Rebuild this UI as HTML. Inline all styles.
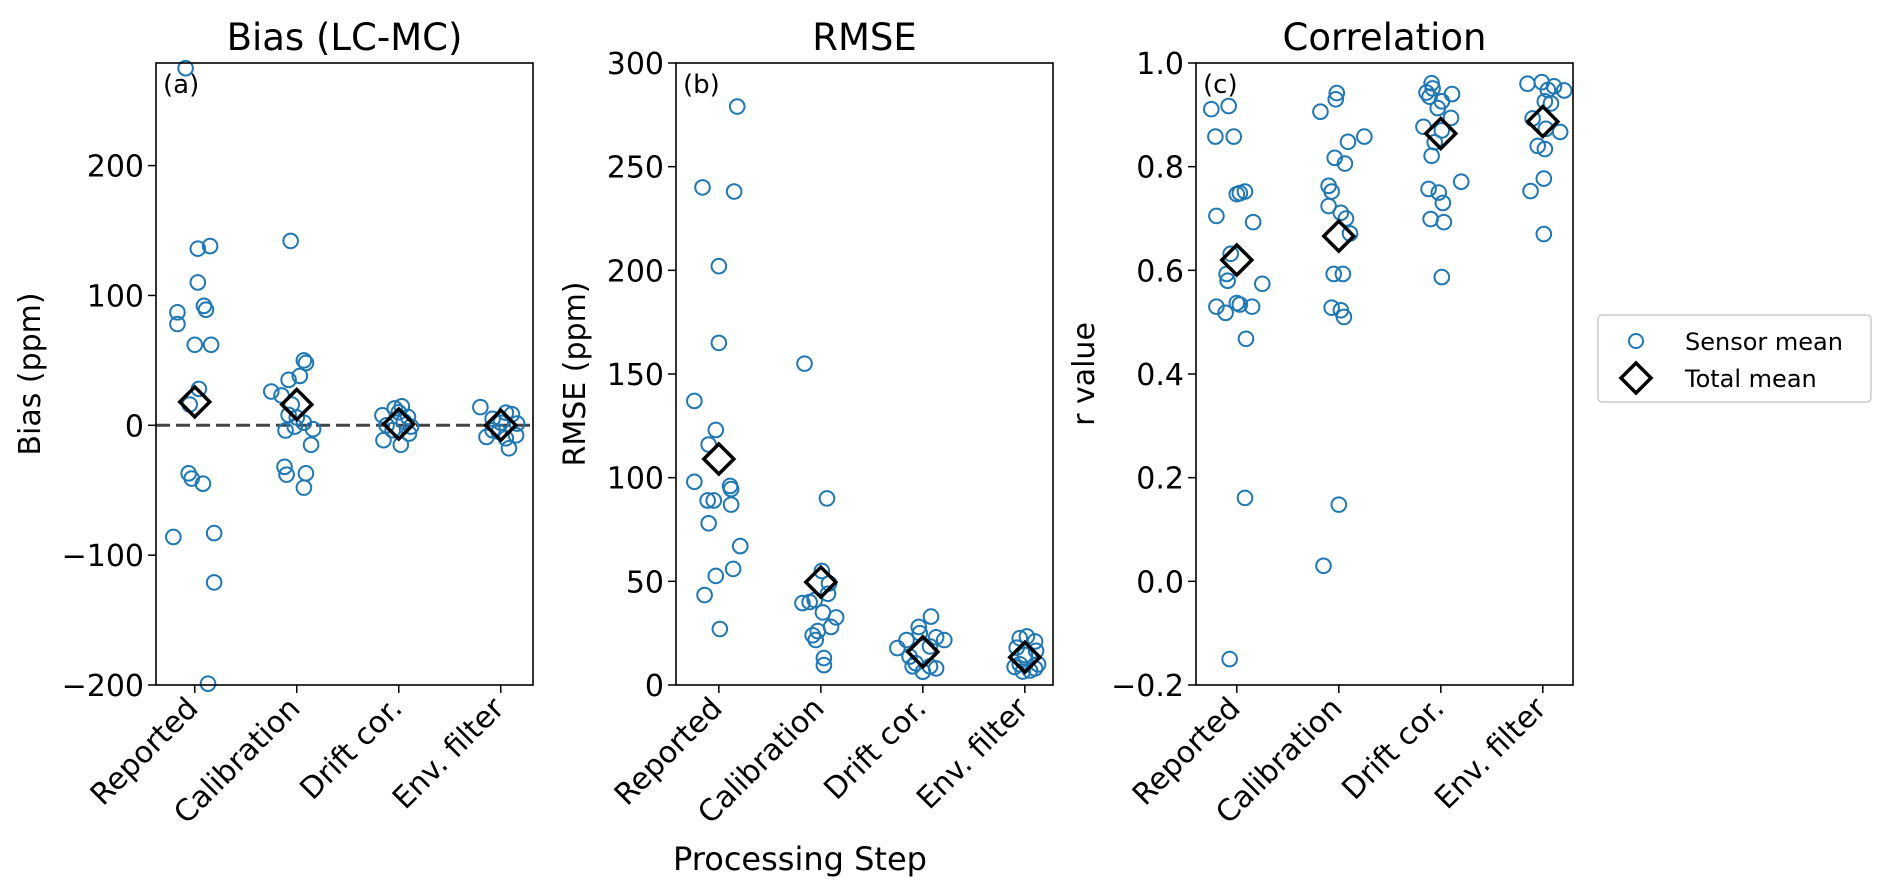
<!DOCTYPE html>
<html><head><meta charset="utf-8"><style>
html,body{margin:0;padding:0;background:#fff;}
svg{display:block;font-family:"DejaVu Sans","Liberation Sans",sans-serif;}
</style></head><body>
<svg id="chart" width="1892" height="896" viewBox="0 0 1892 896" xmlns="http://www.w3.org/2000/svg"></svg>
<script>
const categories = ["Reported","Calibration","Drift cor.","Env. filter"];
const biasVals = [
 [275,136,138,110,92,89,87,78,62,62,28,16,-37,-41,-45,-86,-83,-121,-199],
 [142,26,35,38,50,48,23,16,8,6,2,-4,-1,-3,-15,-32,-38,-37,-48],
 [7.7,13,14.6,-11.5,-15,-6.4,6.4,0,-3.8,-1,10,3],
 [14,-17.7,-9,8.5,1.3,9.7,-3.8,-10,-7.7,5,2,-5]
];
const biasJit = [
 [-0.09,0.03,0.15,0.03,0.09,0.11,-0.17,-0.17,0,0.16,0.04,-0.05,-0.06,-0.03,0.08,-0.21,0.19,0.19,0.13],
 [-0.06,-0.25,-0.08,0.03,0.07,0.09,-0.15,-0.05,-0.08,0,0.07,-0.11,-0.02,0.16,0.14,-0.12,-0.1,0.09,0.07],
 [-0.16,-0.04,0.03,-0.15,0.02,0.1,0.09,-0.12,-0.06,0.12,0.0,0.05],
 [-0.2,0.08,-0.14,0.11,0.16,0.05,-0.08,0.05,0.15,-0.08,0.0,-0.02]
];
const biasMean = [18,16,1,0];
const rmseVals = [
 [279,240,238,202,165,137,123,116,98,96,94.5,89,89,87,78,67,56,52.6,43.4,27],
 [155,90,55,49,39.5,40,41,44,35,32.6,28,24,26,21.7,13,9.6],
 [33,28,25,21.7,17.8,21.7,23,18.6,13.7,10.5,6.4,8,9,9],
 [22.6,23.4,21,18,16.5,14.5,10,10,8.7,7,6.5,8]
];
const rmseJit = [
 [0.18,-0.16,0.15,0,0,-0.24,-0.03,-0.1,-0.24,0.11,0.12,-0.11,-0.05,0.12,-0.1,0.21,0.14,-0.03,-0.14,0.01],
 [-0.16,0.06,0.01,0.08,-0.18,-0.11,-0.06,0.07,0.02,0.15,0.1,-0.08,-0.03,-0.05,0.03,0.03],
 [0.08,-0.04,-0.03,-0.16,-0.25,0.21,0.13,0.07,-0.13,-0.07,0,0.13,0.07,-0.1],
 [-0.05,0.02,0.1,-0.08,0.11,0,-0.05,0.13,-0.1,0.05,-0.02,0.1]
];
const rmseMean = [109,49.6,16,13.4];
const corrVals = [
 [0.911,0.917,0.858,0.858,0.747,0.752,0.749,0.705,0.693,0.632,0.593,0.58,0.574,0.53,0.518,0.537,0.534,0.53,0.468,0.161,-0.15],
 [0.942,0.93,0.906,0.858,0.848,0.817,0.806,0.763,0.752,0.724,0.711,0.7,0.671,0.593,0.593,0.528,0.523,0.51,0.148,0.03],
 [0.961,0.951,0.943,0.935,0.94,0.926,0.913,0.894,0.877,0.87,0.847,0.821,0.771,0.757,0.75,0.73,0.699,0.693,0.587],
 [0.96,0.963,0.955,0.947,0.948,0.926,0.922,0.893,0.867,0.873,0.84,0.834,0.777,0.753,0.67]
];
const corrJit = [
 [-0.25,-0.08,-0.21,-0.03,0,0.08,0.03,-0.2,0.16,-0.06,-0.1,-0.09,0.25,-0.2,-0.11,0,0.03,0.15,0.09,0.08,-0.07],
 [-0.02,-0.03,-0.18,0.25,0.09,-0.04,0.06,-0.1,-0.07,-0.1,0.02,0.07,0.11,-0.05,0.04,-0.07,0.02,0.05,0,-0.15],
 [-0.09,-0.08,-0.14,-0.11,0.11,0.01,-0.03,0.1,-0.17,0.01,-0.06,-0.09,0.2,-0.12,-0.02,0.02,-0.1,0.03,0.01],
 [-0.15,-0.01,0.11,0.21,0.05,0.02,0.08,-0.1,0.17,0.03,-0.05,0.02,0.01,-0.12,0.01]
];
const corrMean = [0.62,0.666,0.864,0.887];
const biasTicks = [-200,-100,0,100,200];
const rmseTicks = [0,50,100,150,200,250,300];
const corrTicks = [-0.2,0.0,0.2,0.4,0.6,0.8,1.0];
const corrTickLabels = ["\u22120.2","0.0","0.2","0.4","0.6","0.8","1.0"];

const NS="http://www.w3.org/2000/svg";
const svg=document.getElementById('chart');
function mk(tag,attrs,parent){const e=document.createElementNS(NS,tag);for(const k in attrs)e.setAttribute(k,attrs[k]);(parent||svg).appendChild(e);return e;}
const TOP=63,BOT=685,BLUE="#1f77b4";
function fmt(v){return v<0?"\u2212"+Math.abs(v):String(v);}

function panel(cfg){
  const g=mk('g',{});
  
  
  const L=cfg.left,R=cfg.left+377;
  const xs=i=>L+(i-cfg.xmin)*102;
  const ys=v=>BOT-(v-cfg.ymin)/(cfg.ymax-cfg.ymin)*(BOT-TOP);
  const t=mk('text',{x:(L+R)/2,y:50,'text-anchor':'middle','font-size':37,fill:'#000'},g);t.textContent=cfg.title;
  
  if(cfg.zero){const zl=mk('line',{x1:L,x2:R,y1:ys(0),y2:ys(0),stroke:'#444',"stroke-width":3,"stroke-dasharray":"14,6"},g);
    }
  cfg.ticks.forEach((v,k)=>{const y=ys(v);
    mk('line',{x1:L-8,x2:L,y1:y,y2:y,stroke:'#000','stroke-width':1.5},g);
    const tl=mk('text',{x:L-12,y:y+11,'text-anchor':'end','font-size':30,fill:'#000'},g);
    tl.textContent=cfg.tickLabels?cfg.tickLabels[k]:fmt(v);
    });
  categories.forEach((c,i)=>{const x=xs(i);
    mk('line',{x1:x,x2:x,y1:BOT,y2:BOT+8,stroke:'#000','stroke-width':1.5},g);
    const tl=mk('text',{x:x+5,y:BOT+25,'text-anchor':'end','font-size':30,fill:'#000',transform:`rotate(-45 ${x+5} ${BOT+25})`},g);
    tl.textContent=c;});
  const yl=mk('text',{x:0,y:0,'text-anchor':'middle','font-size':30,fill:'#000',transform:`translate(${cfg.ylx},${(TOP+BOT)/2}) rotate(-90)`},g);
  yl.textContent=cfg.ylabel;
  cfg.vals.forEach((arr,i)=>arr.forEach((v,j)=>{
    const c=mk('circle',{cx:xs(i+cfg.jit[i][j]),cy:ys(v),r:7.3,fill:'none',stroke:BLUE,'stroke-width':2},g);
    }));
  cfg.mean.forEach((v,i)=>{const x=xs(i),y=ys(v),d=15;
    const p=mk('polygon',{points:`${x},${y-d} ${x+d},${y} ${x},${y+d} ${x-d},${y}`,fill:'none',stroke:'#000','stroke-width':3.5},g);
    });
  const fr=mk('rect',{x:L,y:TOP,width:377,height:BOT-TOP,fill:'none',stroke:'#000','stroke-width':1.6},g);
  
  const pl=mk('text',{x:L+7,y:TOP+30,'font-size':26,fill:'#000'},g);pl.textContent=cfg.letter;
  
}
panel({name:'bias-panel',left:156,xmin:-0.38,ymin:-200,ymax:279,title:'Bias (LC-MC)',ylabel:'Bias (ppm)',ylx:40,ticks:biasTicks,vals:biasVals,jit:biasJit,mean:biasMean,zero:true,letter:'(a)'});
panel({name:'rmse-panel',left:676,xmin:-0.42,ymin:0,ymax:300,title:'RMSE',ylabel:'RMSE (ppm)',ylx:585,ticks:rmseTicks,vals:rmseVals,jit:rmseJit,mean:rmseMean,letter:'(b)'});
panel({name:'correlation-panel',left:1196,xmin:-0.40,ymin:-0.2,ymax:1.0,title:'Correlation',ylabel:'r value',ylx:1094,ticks:corrTicks,tickLabels:corrTickLabels,vals:corrVals,jit:corrJit,mean:corrMean,letter:'(c)'});

const xl=mk('text',{x:800,y:870,'text-anchor':'middle','font-size':32,fill:'#000'});xl.textContent='Processing Step';


const lg=mk('g',{});

mk('rect',{x:1598,y:315,width:273,height:87,rx:4,fill:'#fff',stroke:'#ccc','stroke-width':1.5},lg);
const lc=mk('circle',{cx:1636,cy:341,r:7,fill:'none',stroke:BLUE,'stroke-width':2},lg);

const lt1=mk('text',{x:1685,y:350,'font-size':24,fill:'#000'},lg);lt1.textContent='Sensor mean';

const ld=mk('polygon',{points:"1636,363 1651,378 1636,393 1621,378",fill:'none',stroke:'#000','stroke-width':3.5},lg);

const lt2=mk('text',{x:1685,y:387,'font-size':24,fill:'#000'},lg);lt2.textContent='Total mean';

</script>
</body></html>
